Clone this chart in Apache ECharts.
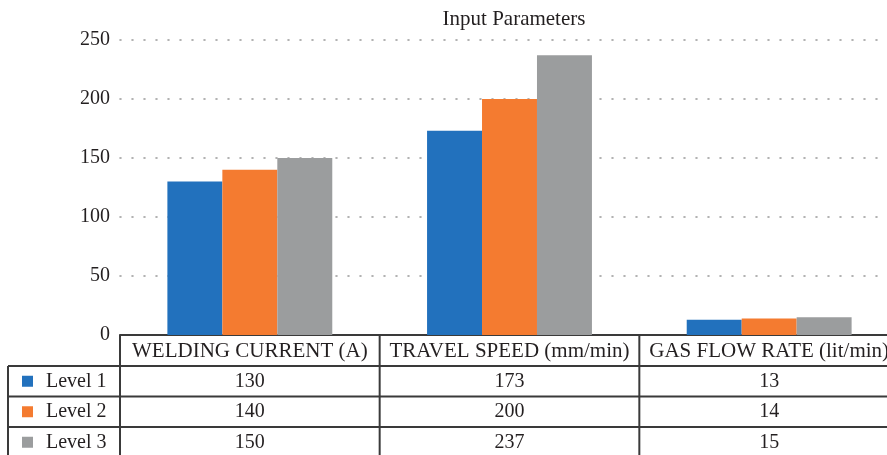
<!DOCTYPE html>
<html><head><meta charset="utf-8">
<script src="https://cdn.jsdelivr.net/npm/echarts@6/dist/echarts.min.js"></script>
<style>html,body{margin:0;padding:0;background:#fff}#c{width:887px;height:455px}</style>
</head><body><div id="c"></div>
<script>
const title = 'Input Parameters';
const categories = ['WELDING CURRENT (A)', 'TRAVEL SPEED (mm/min)', 'GAS FLOW RATE (lit/min)'];
const seriesNames = ['Level 1', 'Level 2', 'Level 3'];
const level1 = [130, 173, 13];
const level2 = [140, 200, 14];
const level3 = [150, 237, 15];
const yMin = 0, yMax = 250, yStep = 50;

const values = [level1, level2, level3];
const colors = ['#2271bd', '#f47b30', '#9b9d9e'];
const FONT = 'Liberation Serif';
const TXT = '#231f20';
const LINE = '#3a3a3a';

const chart = echarts.init(document.getElementById('c'));
chart.setOption({
  animation: false,
  title: { text: title, left: 509, top: 4, textAlign: 'center',
    textStyle: { fontFamily: FONT, fontSize: 21, fontWeight: 'normal', color: TXT } },
  grid: { left: 120, top: 40, width: 779, height: 295, outerBoundsMode: 'none', containLabel: false },
  xAxis: {
    type: 'category', data: categories,
    axisLine: { show: true, lineStyle: { color: LINE, width: 2 } },
    axisTick: { show: false }, axisLabel: { show: false }, splitLine: { show: false }
  },
  yAxis: {
    type: 'value', min: yMin, max: yMax, interval: yStep,
    axisLine: { show: false }, axisTick: { show: false },
    axisLabel: { fontFamily: FONT, fontSize: 20, color: TXT, margin: 10 },
    splitLine: { show: true, lineStyle: { color: '#999', width: 1.6, type: [1, 11], cap: 'round' } }
  },
  series: seriesNames.map((n, i) => ({
    name: n, type: 'bar', data: values[i], barGap: '0%', barCategoryGap: '36.5%',
    itemStyle: { color: colors[i] }
  }))
});

// table built from axis positions
const c0 = chart.convertToPixel({ xAxisIndex: 0 }, 0);
const c1 = chart.convertToPixel({ xAxisIndex: 0 }, 1);
const band = c1 - c0;
const y0 = chart.convertToPixel({ yAxisIndex: 0 }, 0);
const headerH = 31, rowH = 30.5;
const leftX = 8;
const plotLeft = c0 - band / 2;
const plotRight = plotLeft + band * categories.length;
const bottom = y0 + headerH + rowH * seriesNames.length;
const g = [];
const ls = { stroke: LINE, lineWidth: 2 };
for (let i = 0; i <= categories.length; i++) {
  const x = plotLeft + band * i;
  g.push({ type: 'line', shape: { x1: x, y1: y0, x2: x, y2: bottom }, style: ls, silent: true });
}
g.push({ type: 'line', shape: { x1: leftX, y1: y0 + headerH, x2: leftX, y2: bottom }, style: ls });
for (let r = 0; r <= seriesNames.length; r++) {
  const y = y0 + headerH + rowH * r;
  g.push({ type: 'line', shape: { x1: leftX, y1: y, x2: plotRight, y2: y }, style: ls });
}
categories.forEach((cat, i) => {
  g.push({ type: 'text', x: c0 + band * i, y: y0 + headerH / 2 + 1,
    style: { text: cat, fontFamily: FONT, fontSize: 21, fill: TXT, align: 'center', verticalAlign: 'middle' } });
});
seriesNames.forEach((n, r) => {
  const cy = y0 + headerH + rowH * r + rowH / 2;
  g.push({ type: 'rect', shape: { x: 22, y: cy - 5.5, width: 11, height: 11 }, style: { fill: colors[r] } });
  g.push({ type: 'text', x: 46, y: cy,
    style: { text: n, fontFamily: FONT, fontSize: 20, fill: TXT, align: 'left', verticalAlign: 'middle' } });
  values[r].forEach((v, i) => {
    g.push({ type: 'text', x: c0 + band * i, y: cy,
      style: { text: String(v), fontFamily: FONT, fontSize: 20, fill: TXT, align: 'center', verticalAlign: 'middle' } });
  });
});
chart.setOption({ graphic: g });
</script>
</body></html>
